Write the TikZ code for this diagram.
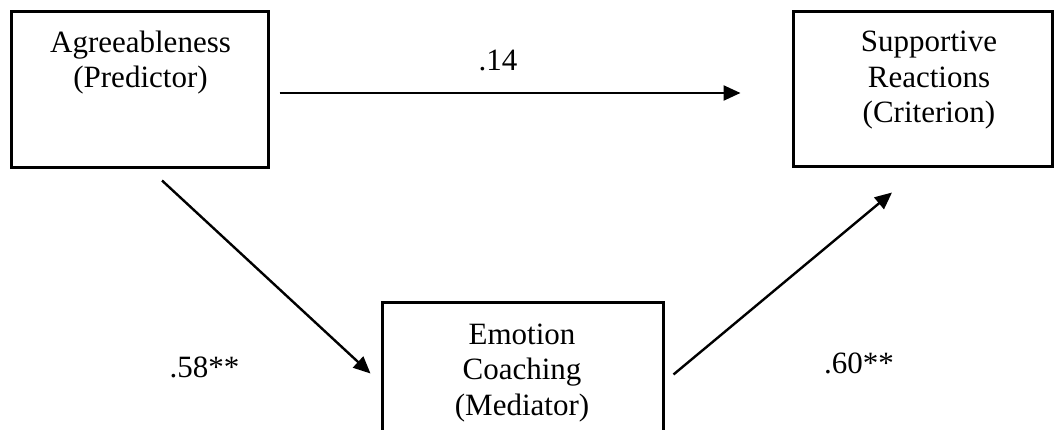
\documentclass[tikz,border=0pt]{standalone}
\usepackage{fontspec}
\setmainfont{Liberation Serif}
\usetikzlibrary{arrows.meta}
\begin{document}
\begin{tikzpicture}[x=1pt,y=-1pt,
  varbox/.style={draw=black,line width=3pt,rectangle,inner sep=0pt},
  boxtext/.style={align=center,inner sep=0pt,anchor=base,font=\fontsize{31}{35.5}\selectfont},
  coef/.style={inner sep=0pt,anchor=base,font=\fontsize{31}{35.5}\selectfont},
  path/.style={line width=2.4pt,-{Triangle[length=17pt,width=15pt]}}]
\useasboundingbox (0,0) rectangle (1054,430);
\clip (0,0) rectangle (1054,430);
% the three variables
\node[varbox,minimum width=257pt,minimum height=156pt] (pred) at (139.5,90) {};
\node[varbox,minimum width=259pt,minimum height=155pt] (crit) at (922.5,89.5) {};
\node[varbox,minimum width=281pt,minimum height=150pt] (med) at (522.5,377) {};
% labels are placed by the baseline of their last line
\node[boxtext] (predtxt) at (140.5,88) {Agreeableness\\(Predictor)};
\node[boxtext] (crittxt) at (929,123) {Supportive\\Reactions\\(Criterion)};
\node[boxtext] (medtxt) at (522,415) {Emotion\\Coaching\\(Mediator)};
% path endpoints, kept clear of the boxes
\coordinate (cS) at ([shift={(10,3)}]pred.east);
\coordinate (cE) at ([shift={(-51,3.5)}]crit.west);
\coordinate (aS) at ([shift={(22.5,11)}]pred.south);
\coordinate (aE) at ([shift={(-10,73)}]med.north west);
\coordinate (bS) at ([shift={(9,74)}]med.north east);
\coordinate (bE) at ([shift={(-30.5,24)}]crit.south);
\draw[path] (cS) -- (cE);
\draw[path] (aS) -- (aE);
\draw[path] (bS) -- (bE);
% path coefficients
\node[coef] (c14) at (498,71) {.14};
\node[coef] (c58) at (204.5,377) {.58**};
\node[coef] (c60) at (859,373) {.60**};
\end{tikzpicture}
\end{document}
